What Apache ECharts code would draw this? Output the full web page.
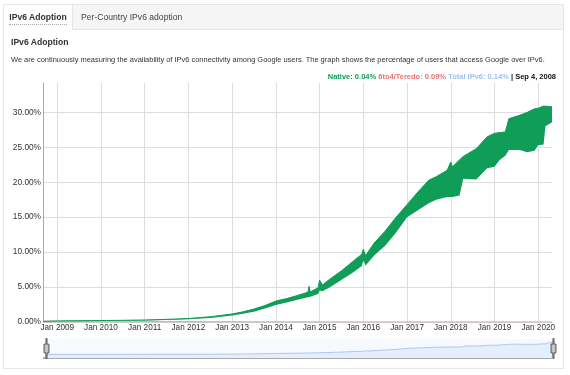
<!DOCTYPE html>
<html>
<head>
<meta charset="utf-8">
<script src="https://cdn.jsdelivr.net/npm/echarts@6/dist/echarts.min.js"></script>
<style>
  html, body { margin: 0; padding: 0; background: #fff; width: 570px; height: 375px; overflow: hidden;
    font-family: "Liberation Sans", Arial, sans-serif; }
  #chart { position: absolute; left: 0; top: 0; width: 570px; height: 375px; }
  .panel { position: absolute; left: 3px; top: 4px; width: 561px; height: 365px; border: 1px solid #e6e6e6; box-sizing: border-box; pointer-events: none; }
  .tabbar { position: absolute; left: 4px; top: 5px; width: 559px; height: 24px; background: #f5f5f5; border-bottom: 1px solid #e6e6e6; }
  .tab { position: absolute; top: 5px; height: 25px; line-height: 24px; font-size: 8.6px; color: #444; }
  .tab.active { left: 4px; width: 68px; background: #fff; font-weight: bold; color: #333; text-align: center; border-right: 1px solid #e6e6e6; }
  .tab.active span { border-bottom: 1px dotted #aaa; padding-bottom: 2px; }
  .tab.other { left: 81px; }
  .h { position: absolute; left: 11px; top: 37px; font-size: 8.6px; font-weight: bold; color: #333; }
  .desc { position: absolute; left: 11px; top: 55px; font-size: 7.46px; color: #333; white-space: nowrap; }
  .legend { position: absolute; right: 14px; top: 72px; font-size: 7.5px; font-weight: bold; white-space: nowrap; }
</style>
</head>
<body>
<div id="chart"></div>
<div class="panel"></div>
<div class="tabbar"></div>
<div class="tab active"><span>IPv6 Adoption</span></div>
<div class="tab other">Per-Country IPv6 adoption</div>
<div class="h">IPv6 Adoption</div>
<div class="desc">We are continuously measuring the availability of IPv6 connectivity among Google users. The graph shows the percentage of users that access Google over IPv6.</div>
<div class="legend"><span style="color:#0f9d58">Native: 0.04%</span> <span style="color:#e57373">6to4/Teredo: 0.09%</span> <span style="color:#9fc0ee">Total IPv6: 0.14%</span> <span style="color:#111">| Sep 4, 2008</span></div>
<script>
// Dates of sampled points
var dates = [
  '2008-09-04','2009-01-01','2009-07-01','2010-01-01','2010-07-01','2011-01-01','2011-07-01',
  '2012-01-01','2012-07-01','2013-01-01','2013-04-01','2013-07-01','2013-10-01',
  '2014-01-01','2014-04-01','2014-07-01','2014-09-25','2014-10-05','2014-10-15','2014-12-20',
  '2015-01-01','2015-01-25','2015-04-01','2015-07-01','2015-10-01','2015-12-20','2016-01-01',
  '2016-01-20','2016-04-01','2016-07-01','2016-10-01','2017-01-01','2017-04-01','2017-07-01',
  '2017-09-01','2017-12-01','2018-01-01','2018-01-15','2018-03-15','2018-04-15','2018-08-01',
  '2018-11-01','2019-01-01','2019-02-15','2019-04-01','2019-05-01','2019-08-01','2019-10-01',
  '2019-12-01','2020-01-01','2020-02-15','2020-03-01','2020-04-25'
];
// Native IPv6, weekday (lower envelope), percent
var nativeLow = [
  0.04,0.10,0.12,0.15,0.17,0.21,0.28,
  0.38,0.58,0.92,1.18,1.48,1.92,
  2.45,2.78,3.18,3.55,3.60,3.60,4.00,
  4.50,4.40,5.00,6.00,7.00,8.00,8.80,
  8.10,9.50,10.90,12.80,15.00,16.00,17.00,
  17.50,17.90,18.00,17.90,18.10,20.50,20.40,
  22.00,22.20,23.20,23.80,24.60,24.60,24.30,
  24.50,25.30,25.40,28.00,28.60
];
// Native IPv6, weekend (upper envelope), percent
var nativeHigh = [
  0.10,0.16,0.19,0.21,0.24,0.29,0.38,
  0.50,0.75,1.15,1.45,1.85,2.35,
  3.00,3.35,3.80,4.25,5.10,4.30,4.90,
  6.00,5.30,6.20,7.30,8.60,9.70,10.40,
  9.50,11.30,13.00,15.00,16.80,18.60,20.30,
  20.80,21.70,22.90,22.20,23.20,23.70,24.80,
  26.50,27.00,27.10,27.20,29.10,29.60,30.00,
  30.50,30.60,30.90,31.00,30.80
];
// 6to4/Teredo, percent
var teredo = [
  0.09,0.09,0.09,0.08,0.08,0.08,0.07,
  0.07,0.06,0.05,0.05,0.04,0.04,
  0.04,0.03,0.03,0.03,0.03,0.03,0.03,
  0.03,0.03,0.02,0.02,0.02,0.02,0.02,
  0.02,0.02,0.02,0.02,0.02,0.02,0.02,
  0.02,0.02,0.02,0.02,0.02,0.02,0.02,
  0.02,0.02,0.02,0.02,0.02,0.02,0.02,
  0.02,0.02,0.02,0.02,0.02
];
var yTicks = ['0.00%','5.00%','10.00%','15.00%','20.00%','25.00%','30.00%'];

var lowData = dates.map(function (d, i) { return [d, nativeLow[i]]; });
var bandData = dates.map(function (d, i) { return [d, +(nativeHigh[i] - nativeLow[i]).toFixed(3)]; });
var teredoData = dates.map(function (d, i) { return [d, teredo[i]]; });

var chart = echarts.init(document.getElementById('chart'), null, { renderer: 'canvas' });
var YEAR = 365.25 * 24 * 3600 * 1000;
var G = '#dddddd', T = 'rgba(0,0,0,0)';
chart.setOption({
  animation: false,
  textStyle: { fontFamily: 'Liberation Sans, Arial, sans-serif' },
  grid: { left: 43, right: 18, top: 83, bottom: 53, containLabel: false },
  xAxis: {
    type: 'time',
    min: '2008-09-04',
    max: '2020-04-25',
    minInterval: YEAR * 0.99,
    maxInterval: YEAR * 1.01,
    axisLine: { show: true, lineStyle: { color: '#cccccc' } },
    axisTick: { show: false },
    axisLabel: {
      fontSize: 8.2, color: '#333', margin: 2, showMinLabel: false, showMaxLabel: false,
      formatter: function (v) {
        var d = new Date(v);
        return (d.getMonth() === 0 && d.getDate() === 1) ? 'Jan ' + d.getFullYear() : '';
      }
    },
    splitLine: { show: true, lineStyle: { color: [T, G, G, G, G, G, G, G, G, G, G, G, G, T] } }
  },
  yAxis: {
    type: 'value',
    min: 0, max: 34.2, interval: 5,
    axisLine: { show: true, lineStyle: { color: '#aaaaaa' } },
    axisTick: { show: false },
    axisLabel: {
      fontSize: 8.3, color: '#333', margin: 2, showMaxLabel: false,
      formatter: function (v) { var i = Math.round(v / 5); return yTicks[i] !== undefined && Math.abs(v - i * 5) < 1e-6 ? yTicks[i] : ''; }
    },
    splitLine: { show: true, lineStyle: { color: [G, G, G, G, G, G, G, T] } }
  },
  dataZoom: [{
    type: 'slider', xAxisIndex: 0, left: 43, right: 18, top: 339, height: 19,
    start: 0, end: 100,
    backgroundColor: 'rgba(0,0,0,0)', borderColor: 'rgba(0,0,0,0)',
    fillerColor: 'rgba(225,236,252,0.3)',
    showDetail: false, brushSelect: false, moveHandleSize: 0,
    handleIcon: 'path://M8.2,13.6V3.9H6.3v9.7H3.1v14.9h3.3v9.7h1.8v-9.7h3.3V13.6H8.2z',
    handleSize: '105%',
    handleStyle: { color: '#c4c4c4', borderColor: '#555555', borderWidth: 1 },
    dataBackground: {
      lineStyle: { color: '#9ab8ea', width: 1, opacity: 1 },
      areaStyle: { color: '#e6effc', opacity: 1 }
    },
    selectedDataBackground: {
      lineStyle: { color: '#9ab8ea', width: 1, opacity: 1 },
      areaStyle: { color: '#e6effc', opacity: 1 }
    }
  }],
  graphic: [{ type: 'rect', shape: { x: 43, y: 357.5, width: 509, height: 1 }, style: { fill: '#555' }, silent: true }],
  series: [
    { name: 'low', type: 'line', stack: 'native', data: lowData, symbol: 'none',
      lineStyle: { width: 0, opacity: 0 }, z: 3 },
    { name: 'Native', type: 'line', stack: 'native', data: bandData, symbol: 'none',
      lineStyle: { width: 1, color: '#0f9d58' }, areaStyle: { color: '#0f9d58', opacity: 1 }, z: 4 },
    { name: '6to4/Teredo', type: 'line', data: teredoData, symbol: 'none',
      lineStyle: { width: 1, color: '#f2a5a5' }, z: 2 }
  ]
});
</script>
</body>
</html>
